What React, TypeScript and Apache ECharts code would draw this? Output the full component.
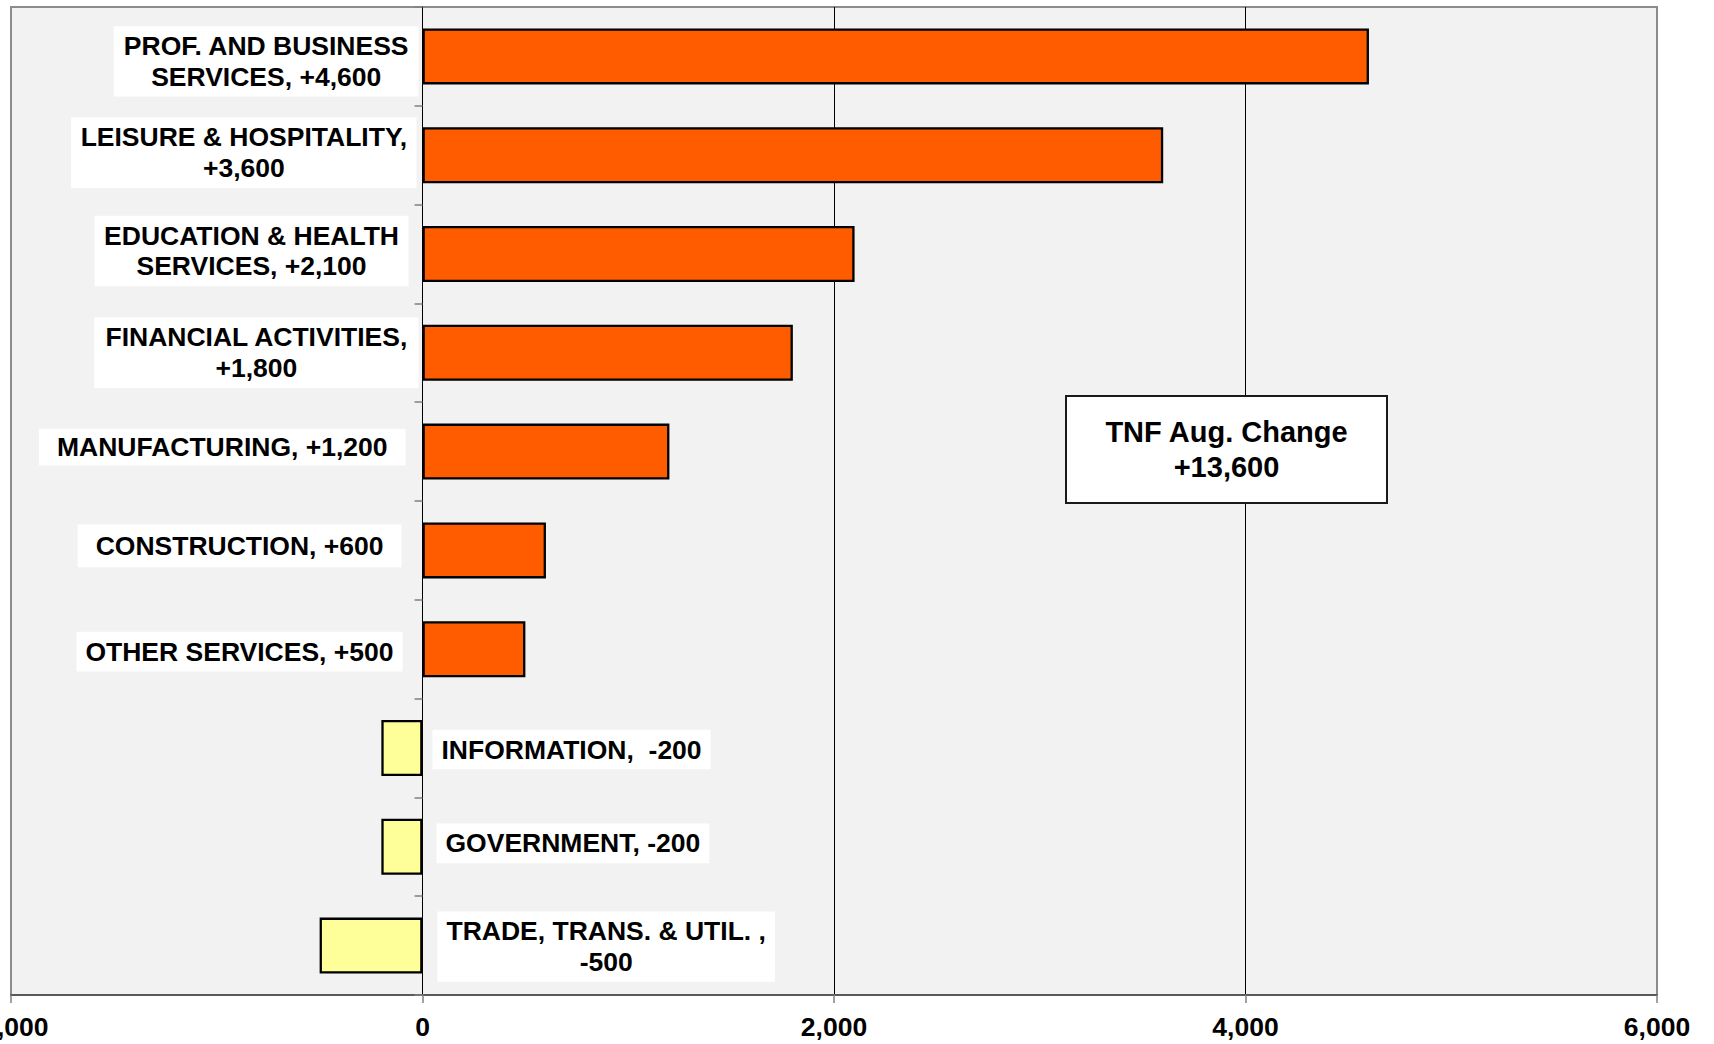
import React, { useEffect, useRef } from 'react';
import * as echarts from 'echarts';

// ---- Data ----
const categories: string[] = [
  'PROF. AND BUSINESS SERVICES',
  'LEISURE & HOSPITALITY',
  'EDUCATION & HEALTH SERVICES',
  'FINANCIAL ACTIVITIES',
  'MANUFACTURING',
  'CONSTRUCTION',
  'OTHER SERVICES',
  'INFORMATION',
  'GOVERNMENT',
  'TRADE, TRANS. & UTIL.',
];
const values: number[] = [4600, 3600, 2100, 1800, 1200, 600, 500, -200, -200, -500];
const labelLines: string[][] = [
  ['PROF. AND BUSINESS', 'SERVICES, +4,600'],
  ['LEISURE & HOSPITALITY,', '+3,600'],
  ['EDUCATION & HEALTH', 'SERVICES, +2,100'],
  ['FINANCIAL ACTIVITIES,', '+1,800'],
  ['MANUFACTURING, +1,200'],
  ['CONSTRUCTION, +600'],
  ['OTHER SERVICES, +500'],
  ['INFORMATION,  -200'],
  ['GOVERNMENT, -200'],
  ['TRADE, TRANS. & UTIL. ,', '-500'],
];
const xTicks: number[] = [-2000, 0, 2000, 4000, 6000];
const totalTitle = 'TNF Aug. Change';
const totalValue = '+13,600';

// ---- Label placement (style only) ----
const labelDistance: number[] = [4, 6, 14, 4, 17, 21, 20, 10, 14, 15];
const labelOffsetY: number[] = [5, -2.5, -3, 0, -4.5, -4.5, 2.5, 1.5, -3.5, 1];
const labelPadX: number[] = [9.5, 9.5, 9.5, 10.5, 18, 18, 9, 9, 9, 9];
const labelPadY: number[] = [4.5, 4.5, 4.5, 4.5, 3, 6, 4.5, 4.5, 4.5, 4.5];

const FONT = '"Liberation Sans", Arial, Helvetica, sans-serif';
const FS = 26.5;
const ORANGE = '#FF5C00';
const YELLOW = '#FFFF99';

export default function App() {
  const ref = useRef<HTMLDivElement>(null);

  useEffect(() => {
    if (!ref.current) return;
    const chart = echarts.init(ref.current, null, { renderer: 'svg' });

    const data = values.map((v, i) => ({
      value: v,
      itemStyle: { color: v >= 0 ? ORANGE : YELLOW },
      label: {
        position: v >= 0 ? 'left' : 'right',
        distance: labelDistance[i],
        offset: [0, labelOffsetY[i]],
        padding: [labelPadY[i], labelPadX[i], labelPadY[i], labelPadX[i]],
      },
    }));

    chart.setOption({
      animation: false,
      backgroundColor: '#FFFFFF',
      textStyle: { fontFamily: FONT },
      grid: {
        left: 11,
        right: 57,
        top: 7,
        bottom: 49,
        containLabel: false,
        outerBoundsMode: 'none',
        show: true,
        backgroundColor: '#F2F2F2',
        borderColor: '#8C8C8C',
        borderWidth: 2,
      },
      xAxis: {
        type: 'value',
        min: xTicks[0],
        max: xTicks[xTicks.length - 1],
        interval: 2000,
        position: 'bottom',
        axisLine: { show: true, onZero: false, lineStyle: { color: '#5A5A5A', width: 2 } },
        axisTick: { show: true, length: 8, lineStyle: { color: '#808080', width: 1.5 } },
        axisLabel: {
          show: true,
          margin: 18,
          fontSize: FS,
          fontWeight: 'bold',
          color: '#000',
          fontFamily: FONT,
          hideOverlap: false,
          formatter: (v: number) => v.toLocaleString('en-US'),
        },
        splitLine: {
          show: true,
          lineStyle: { color: ['#8C8C8C', '#000000', '#000000', '#000000', '#8C8C8C'], width: 1 },
        },
      },
      yAxis: {
        type: 'category',
        data: categories,
        inverse: true,
        axisLine: { show: true, onZero: true, lineStyle: { color: '#000', width: 1 } },
        axisTick: { show: true, length: 8, lineStyle: { color: '#808080', width: 1.5 } },
        axisLabel: { show: false },
        splitLine: { show: false },
      },
      series: [
        {
          type: 'bar',
          data,
          barWidth: 56,
          itemStyle: { borderColor: '#000', borderWidth: 2.3 },
          label: {
            show: true,
            backgroundColor: '#FFFFFF',
            formatter: (p: any) => labelLines[p.dataIndex].map((l) => `{c|${l}}`).join('\n'),
            rich: {
              c: {
                align: 'center',
                fontSize: FS,
                fontWeight: 'bold',
                fontFamily: FONT,
                color: '#000',
                lineHeight: 30.7,
              },
            },
          },
        },
      ],
      graphic: [
        {
          type: 'group',
          left: 1065,
          top: 395,
          z: 100,
          children: [
            {
              type: 'rect',
              z: 100,
              shape: { x: 0, y: 0, width: 321, height: 107 },
              style: { fill: '#FFFFFF', stroke: '#1A1A1A', lineWidth: 2 },
            },
            {
              type: 'text',
              z: 101,
              x: 160.5,
              y: 53.5,
              style: {
                text: totalTitle + '\n' + totalValue,
                fontSize: 29,
                fontWeight: 'bold',
                fontFamily: FONT,
                fill: '#000',
                align: 'center',
                verticalAlign: 'middle',
                lineHeight: 35,
              },
            },
          ],
        },
      ],
    });

    return () => chart.dispose();
  }, []);

  return (
    <div
      ref={ref}
      style={{ position: 'fixed', left: 0, top: 0, width: 1714, height: 1044, background: '#fff' }}
    />
  );
}
